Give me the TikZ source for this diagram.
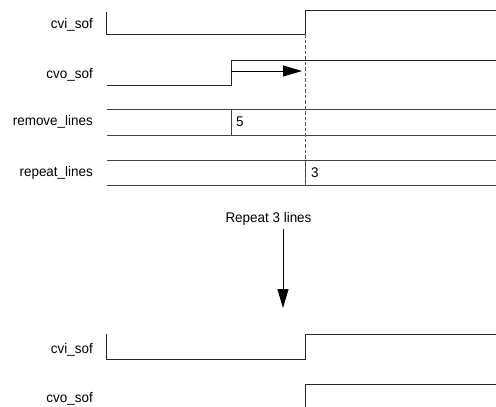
\documentclass[tikz,border=0pt]{standalone}
\usepackage{fontspec}
\setmainfont{Liberation Sans}
\usetikzlibrary{arrows.meta}
\begin{document}
\begin{tikzpicture}[x=1pt,y=-1pt,
  wave/.style={line width=0.9pt,black!85},
  bus/.style={line width=0.9pt,black!75},
  sig/.style={anchor=east,inner sep=0pt,font=\fontsize{14}{16}\selectfont,xscale=0.96},
  val/.style={anchor=west,inner sep=0pt,font=\fontsize{14}{16}\selectfont,xscale=0.96},
  marker/.style={line width=1pt,black!65,dash pattern=on 3.5pt off 2pt},
  pointer/.style={line width=0.9pt,-{Triangle[length=19pt,width=11pt]}}]
\useasboundingbox (0,0) rectangle (496,407);

% signal names
\node[sig] (l1) at (93,25) {cvi\_sof};
\node[sig] (l2) at (93,75) {cvo\_sof};
\node[sig] (l3) at (93,122) {remove\_lines};
\node[sig] (l4) at (93,173) {repeat\_lines};
\node[sig] (l5) at (93,350) {cvi\_sof};
\node[sig] (l6) at (93,399) {cvo\_sof};

% upper timing: cvi_sof
\draw[wave] (106.7,11.5) -- (106.7,34.3) -- (305,34.3) -- (305,10.3) -- (496,10.3);
% cvo_sof
\draw[wave] (106.7,85) -- (231,85) -- (231,60.7) -- (496,60.7);
\coordinate (ps) at (231,71);
\coordinate (pe) at (302,71);
\draw[pointer] (ps) -- (pe);

% remove_lines bus
\draw[bus] (106.7,109.7) -- (496,109.7);
\draw[bus] (106.7,135) -- (496,135);
\draw[bus] (231,109.7) -- (231,135);
\node[val] (v5) at (236,122) {5};

% repeat_lines bus
\draw[bus] (106.7,160) -- (496,160);
\draw[bus] (106.7,185) -- (496,185);
\draw[bus] (305,160) -- (305,185);
\node[val] (v3) at (311,173) {3};

% alignment marker
\draw[marker] (305,34.3) -- (305,185);

% transition between the two views
\node[inner sep=0pt,font=\fontsize{14}{16}\selectfont,xscale=0.96] (rep) at (268.5,219) {Repeat 3 lines};
\coordinate (dn) at (283,308);
\draw[pointer] (283,229) -- (dn);

% lower timing: cvi_sof
\draw[wave] (106.7,334) -- (106.7,359) -- (305,359) -- (305,334.3) -- (496,334.3);
% cvo_sof
\draw[wave] (305,407) -- (305,384.3) -- (496,384.3);
\end{tikzpicture}
\end{document}
